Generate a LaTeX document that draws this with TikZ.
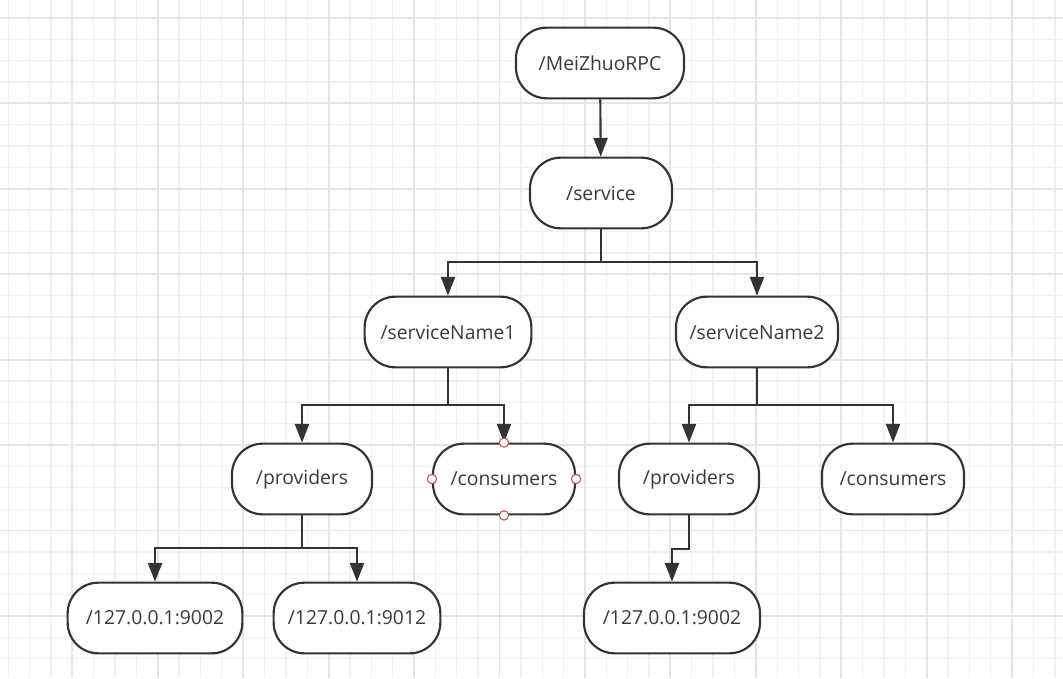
\documentclass[tikz,border=0pt]{standalone}
\usepackage{fontspec}
\setmainfont{Open Sans}
\usetikzlibrary{arrows.meta}
\definecolor{gridminor}{HTML}{F0F0F0}
\definecolor{gridmajor}{HTML}{E5E5E5}
\definecolor{textgray}{HTML}{3A3A3A}
\definecolor{handlered}{HTML}{B85450}
\tikzset{
  znode/.style={draw=black!80, line width=1.6pt, rounded corners=23pt, fill=white,
    text=textgray, font=\fontsize{14.5}{17}\selectfont, minimum height=53pt},
  link/.style={draw=black!80, line width=1.6pt, -{Triangle[length=14pt,width=10.5pt]}},
  handledot/.style={circle, draw=handlered, fill=white, inner sep=0pt,
    minimum size=7pt, line width=0.8pt}
}

\begin{document}
\begin{tikzpicture}[x=0.75pt, y=-0.75pt]
        \useasboundingbox (0,0) rectangle (1063,678);
        \clip (0,0) rectangle (1063,678);
        % grid
        \foreach \i in {0,...,49}
            \draw [gridminor, line width=1pt] (8.2+\i*21.36, 0) -- ++(0, 678);
        \foreach \i in {0,...,31}
            \draw [gridminor, line width=1pt] (0, 17.9+\i*21.36) -- ++(1063, 0);
        \foreach \i in {0,...,12}
            \draw [gridmajor, line width=1.4pt] (-13.1+\i*85.44, 0) -- ++(0, 678);
        \foreach \i in {0,...,7}
            \draw [gridmajor, line width=1.4pt] (0, 17.9+\i*85.44) -- ++(1063, 0);

        % tree nodes
        \node [znode, minimum width=126pt] (root) at (600, 63) {/MeiZhuoRPC};
        \node [znode, minimum width=106.5pt] (service) at (601, 193) {/service};
        \node [znode, minimum width=125pt] (sname1) at (448, 332) {/serviceName1};
        \node [znode, minimum width=121.5pt] (sname2) at (757, 332) {/serviceName2};
        \node [znode, minimum width=105pt] (prov1) at (302, 479) {/providers};
        \node [znode, minimum width=106.5pt] (cons1) at (504, 479) {/consumers};
        \node [znode, minimum width=105pt] (prov2) at (689, 479) {/providers};
        \node [znode, minimum width=106.5pt] (cons2) at (893, 479) {/consumers};
        \node [znode, minimum width=131pt] (addr1) at (155, 618) {/127.0.0.1:9002};
        \node [znode, minimum width=125pt] (addr2) at (357, 618) {/127.0.0.1:9012};
        \node [znode, minimum width=132pt] (addr3) at (672, 618) {/127.0.0.1:9002};

        % connectors
        \draw [link] (root) -- (service);
        \draw [link] (service.south) -- ++(0, 33) -| (sname1.north);
        \draw [link] (service.south) -- ++(0, 33) -| (sname2.north);
        \draw [link] (sname1.south) -- ++(0, 37) -| (prov1.north);
        \draw [link] (sname1.south) -- ++(0, 37) -| (cons1.north);
        \draw [link] (sname2.south) -- ++(0, 37) -| (prov2.north);
        \draw [link] (sname2.south) -- ++(0, 37) -| (cons2.north);
        \draw [link] (prov1.south) -- ++(0, 33) -| (addr1.north);
        \draw [link] (prov1.south) -- ++(0, 33) -| (addr2.north);
        \draw [link] (prov2.south) -- ++(0, 34) -| (addr3.north);

        % selection handles
        \foreach \a in {north, south, east, west}
            \node [handledot] (cons1h\a) at (cons1.\a) {};
    \end{tikzpicture}
\end{document}
